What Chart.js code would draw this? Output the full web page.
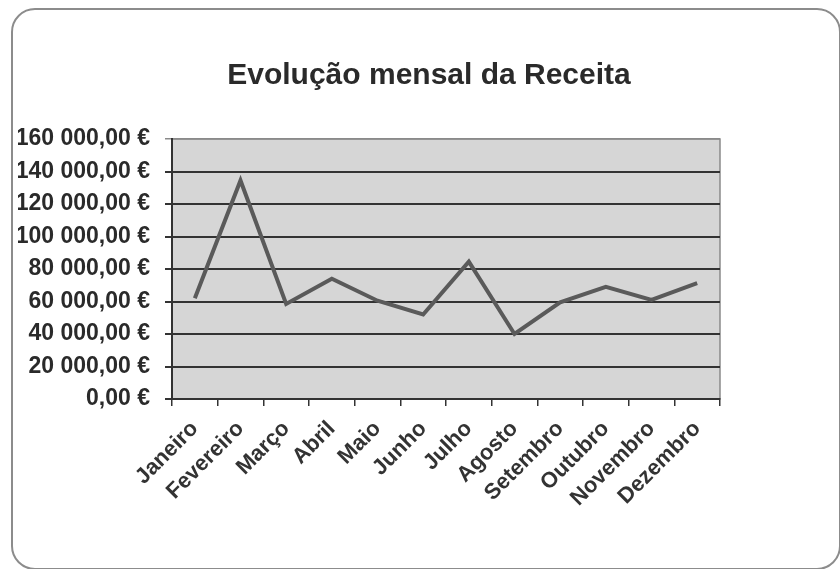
<!DOCTYPE html>
<html>
<head>
<meta charset="utf-8">
<script src="https://cdn.jsdelivr.net/npm/chart.js@4"></script>
<style>
  body { margin: 0; background: #fff; overflow: hidden; }
  #wrap { position: relative; width: 840px; height: 569px; }
  #frame {
    position: absolute; left: 11px; top: 8px; width: 830px; height: 562px;
    border: 2px solid #8c8c8c; border-radius: 24px; box-sizing: border-box;
  }
  canvas { position: absolute; left: 0; top: 0; }
</style>
</head>
<body>
<div id="wrap">
  <div id="frame"></div>
  <canvas id="receitaChart" width="840" height="569"></canvas>
</div>
<script>
const meses = ["Janeiro", "Fevereiro", "Março", "Abril", "Maio", "Junho",
  "Julho", "Agosto", "Setembro", "Outubro", "Novembro", "Dezembro"];
const receita = [62000, 134500, 58500, 74000, 60500, 52000,
  84500, 40000, 59500, 69000, 61000, 71300];
const yMin = 0;
const yMax = 160000;
const yStep = 20000;

// fundo cinzento da área do gráfico
const plotBackground = {
  id: "plotBackground",
  beforeDraw(chart) {
    const a = chart.chartArea;
    const ctx = chart.ctx;
    ctx.save();
    ctx.fillStyle = "#d6d6d6";
    ctx.fillRect(a.left, a.top, a.right - a.left, a.bottom - a.top);
    ctx.strokeStyle = "#8a8a8a";
    ctx.lineWidth = 1.5;
    ctx.strokeRect(a.left, a.top, a.right - a.left, a.bottom - a.top);
    ctx.restore();
  }
};

function euro(v) {
  const s = Math.round(v).toString().replace(/\B(?=(\d{3})+(?!\d))/g, " ");
  return s + ",00 €";
}

new Chart(document.getElementById("receitaChart"), {
  type: "line",
  data: {
    labels: meses,
    datasets: [{
      label: "Receita",
      data: receita,
      borderColor: "#5a5a5a",
      borderWidth: 4,
      pointRadius: 0,
      tension: 0,
      fill: false
    }]
  },
  options: {
    responsive: false,
    animation: false,
    layout: { padding: { left: 18, right: 0, top: 0, bottom: 0 } },
    plugins: {
      legend: { display: false },
      tooltip: { enabled: false },
      title: {
        display: true,
        text: "Evolução mensal da Receita",
        color: "#2a2a2a",
        font: { family: "Liberation Sans, Arial", size: 30, weight: "bold", lineHeight: 1.2 },
        padding: { top: 58, bottom: 45 }
      }
    },
    scales: {
      x: {
        offset: true,
        grid: {
          offset: true,
          drawOnChartArea: false,
          drawTicks: true,
          tickLength: 7,
          color: "#333",
          lineWidth: 1.5
        },
        border: { display: true, color: "#333", width: 2 },
        ticks: {
          minRotation: 45,
          maxRotation: 45,
          padding: 10,
          color: "#333",
          font: { family: "Liberation Sans, Arial", size: 22, weight: "bold" }
        },
        afterFit(scale) { scale.height = 170; }
      },
      y: {
        min: yMin,
        max: yMax,
        ticks: {
          stepSize: yStep,
          padding: 15,
          color: "#2a2a2a",
          font: { family: "Liberation Sans, Arial", size: 23, weight: "bold" },
          callback: function(value) { return euro(value); }
        },
        grid: {
          tickLength: 7,
          color: (ctx) => ctx.tick && ctx.tick.value === yMax ? "#8a8a8a" : "#333",
          lineWidth: (ctx) => ctx.tick && ctx.tick.value === yMax ? 1.5 : 2
        },
        border: { display: true, color: "#333", width: 2 },
        afterFit(scale) { scale.width = 154; }
      },
      y2: {
        position: "right",
        display: true,
        grid: { display: false },
        border: { display: false },
        ticks: { display: false },
        afterFit(scale) { scale.width = 120; }
      }
    }
  },
  plugins: [plotBackground]
});
</script>
</body>
</html>
